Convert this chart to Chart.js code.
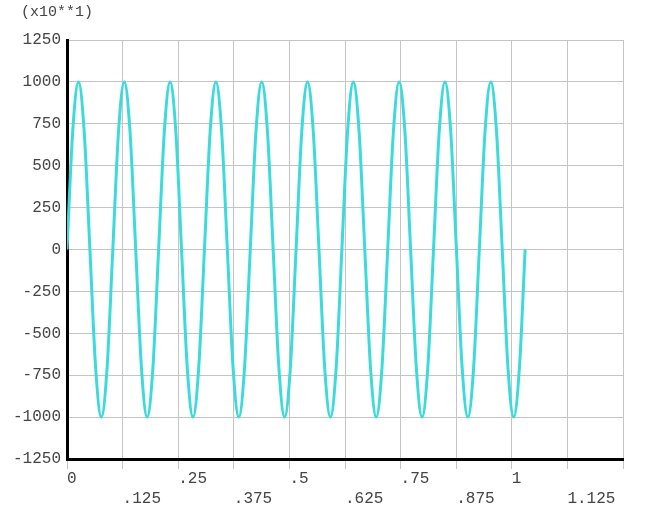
<!DOCTYPE html>
<html>
<head>
<meta charset="utf-8">
<script src="https://cdn.jsdelivr.net/npm/chart.js@4/dist/chart.umd.min.js"></script>
<style>
  html, body { margin: 0; padding: 0; background: #fff; }
  #wrap { width: 672px; height: 509px; }
</style>
</head>
<body>
<div id="wrap"><canvas id="chartWave" width="672" height="509"></canvas></div>
<script>
// time positions (1/8 period apart)
const timeValues = [
  0, 0.0129, 0.0258, 0.0386, 0.0515, 0.0644, 0.0773, 0.0901,
  0.103, 0.1159, 0.1288, 0.1416, 0.1545, 0.1674, 0.1803, 0.1931,
  0.206, 0.2189, 0.2318, 0.2446, 0.2575, 0.2704, 0.2833, 0.2961,
  0.309, 0.3219, 0.3348, 0.3476, 0.3605, 0.3734, 0.3863, 0.3991,
  0.412, 0.4249, 0.4378, 0.4506, 0.4635, 0.4764, 0.4893, 0.5021,
  0.515, 0.5279, 0.5408, 0.5536, 0.5665, 0.5794, 0.5923, 0.6051,
  0.618, 0.6309, 0.6438, 0.6566, 0.6695, 0.6824, 0.6953, 0.7081,
  0.721, 0.7339, 0.7468, 0.7596, 0.7725, 0.7854, 0.7983, 0.8111,
  0.824, 0.8369, 0.8498, 0.8626, 0.8755, 0.8884, 0.9013, 0.9141,
  0.927, 0.9399, 0.9528, 0.9656, 0.9785, 0.9914, 1.0043, 1.0171,
  1.03
];

// signal values (x10) read at those positions
const signalValues = [
  0, 707, 1000, 707, 0, -707, -1000, -707,
  0, 707, 1000, 707, 0, -707, -1000, -707,
  0, 707, 1000, 707, 0, -707, -1000, -707,
  0, 707, 1000, 707, 0, -707, -1000, -707,
  0, 707, 1000, 707, 0, -707, -1000, -707,
  0, 707, 1000, 707, 0, -707, -1000, -707,
  0, 707, 1000, 707, 0, -707, -1000, -707,
  0, 707, 1000, 707, 0, -707, -1000, -707,
  0, 707, 1000, 707, 0, -707, -1000, -707,
  0, 707, 1000, 707, 0, -707, -1000, -707,
  0
];

const xTickLabels = ["0", ".125", ".25", ".375", ".5", ".625", ".75", ".875", "1", "1.125", ""];
const yTickLabels = ["-1250", "-1000", "-750", "-500", "-250", "0", "250", "500", "750", "1000", "1250"];
const scaleNote = "(x10**1)";

const points = timeValues.map((t, i) => ({ x: t, y: signalValues[i] }));

const tickFont = { family: "'Liberation Mono', 'DejaVu Sans Mono', monospace", size: 16, lineHeight: 1.25 };
const gridColor = "#c4c4c4";

// draws the scale note in the top left corner
const notePlugin = {
  id: "scaleNote",
  afterDraw: (chart) => {
    const ctx = chart.ctx;
    ctx.save();
    ctx.font = "15px 'Liberation Mono', monospace";
    ctx.fillStyle = "#444";
    ctx.textAlign = "left";
    ctx.textBaseline = "middle";
    ctx.fillText(scaleNote, 21, 12);
    ctx.restore();
  },
};

const chartWave = new Chart(document.querySelector("#chartWave"), {
  type: "line",
  data: {
    datasets: [
      {
        data: points,
        borderColor: "#3ddada",
        borderWidth: 3,
        pointRadius: 0,
        cubicInterpolationMode: "monotone",
        fill: false,
      },
    ],
  },
  options: {
    responsive: false,
    animation: false,
    layout: { padding: { top: 40, right: 49, left: 0, bottom: 0 } },
    plugins: {
      legend: { display: false },
      tooltip: { enabled: false },
    },
    scales: {
      x: {
        type: "linear",
        min: 0,
        max: 1.25,
        afterFit: (scale) => { scale.height = 50; },
        afterBuildTicks: (scale) => {
          scale.ticks = xTickLabels.map((_, i) => ({ value: i * 0.125 }));
        },
        ticks: {
          font: tickFont,
          color: "#444",
          align: "start",
          padding: 0,
          maxRotation: 0,
          autoSkip: false,
          callback: (value, index) => (index % 2 === 0 ? xTickLabels[index] : ["", xTickLabels[index]]),
        },
        grid: { color: gridColor, tickLength: 10, tickColor: gridColor },
        border: { display: true, color: "#000", width: 3 },
      },
      y: {
        min: -1250,
        max: 1250,
        afterFit: (scale) => { scale.width = 67; },
        afterBuildTicks: (scale) => {
          scale.ticks = yTickLabels.map((label) => ({ value: parseFloat(label) }));
        },
        ticks: {
          font: tickFont,
          color: "#444",
          padding: 6,
          autoSkip: false,
          callback: (value, index) => yTickLabels[index],
        },
        grid: { color: gridColor, drawTicks: false },
        border: { display: true, color: "#000", width: 3 },
      },
    },
  },
  plugins: [notePlugin],
});
</script>
</body>
</html>
